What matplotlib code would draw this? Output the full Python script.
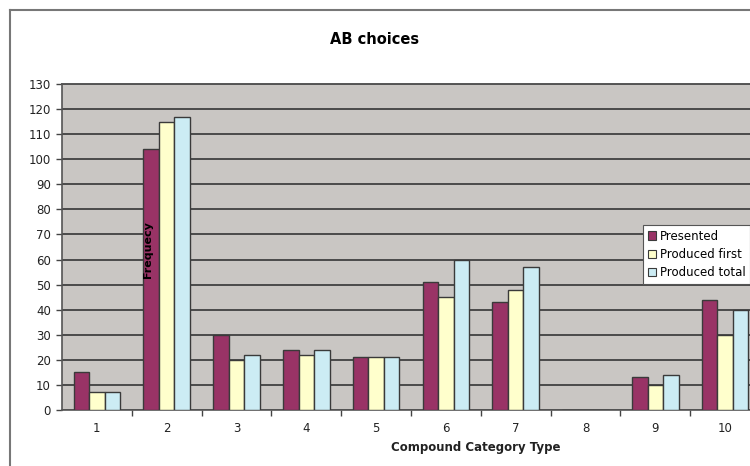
import matplotlib.pyplot as plt
import numpy as np
from matplotlib.lines import Line2D
from matplotlib.patches import Patch

# category numbers and counts per series
categories = [1, 2, 3, 4, 5, 6, 7, 8, 9, 10]
presented = [15, 104, 30, 24, 21, 51, 43, 0, 13, 44]
produced_first = [7, 115, 20, 22, 21, 45, 48, 0, 10, 30]
produced_total = [7, 117, 22, 24, 21, 60, 57, 0, 14, 40]
series_names = ["Presented", "Produced first", "Produced total"]

colors = ["#993366", "#FFFFCC", "#CCECF4"]
edge = "#3a3a3a"

fig = plt.figure(figsize=(7.5, 4.66), dpi=100)
fig.patch.set_facecolor("white")

# plot area runs a little past the right edge of the figure
ax = fig.add_axes([62 / 750, 56 / 466, 698 / 750, 326 / 466])
ax.set_facecolor("#C9C6C3")

x = np.array(categories)
w = 0.222
for i, vals in enumerate([presented, produced_first, produced_total]):
    ax.bar(x + (i - 1) * w, vals, width=w, color=colors[i],
           edgecolor=edge, linewidth=1.0, zorder=3)

ax.set_xlim(0.5, 10.5)
ax.set_ylim(0, 130)
ax.set_yticks(np.arange(0, 131, 10))
ax.yaxis.grid(True, color="#4a4a4a", linewidth=1.4, zorder=1)
ax.set_axisbelow(True)

# category labels without marks, marks between categories
ax.set_xticks(categories)
ax.set_xticklabels([str(c) for c in categories])
ax.tick_params(axis="x", length=0, pad=9, labelsize=8.5, colors="#222222")
ax.set_xticks(np.arange(1.5, 10.5, 1), minor=True)
ax.tick_params(axis="x", which="minor", length=4, width=1, color="#444444",
               direction="out")
ax.tick_params(axis="y", length=4, width=1, color="#444444", labelsize=8.5,
               labelcolor="#222222", pad=4)

for s in ["top", "right"]:
    ax.spines[s].set_color("#555555")
    ax.spines[s].set_linewidth(1.4)
for s in ["left", "bottom"]:
    ax.spines[s].set_color("#555555")
    ax.spines[s].set_linewidth(1.2)

# y label sits inside the plot area, over the second group
fig.text(148 / 750, 1 - 250 / 466, "Frequecy", rotation=90, fontsize=8,
         fontweight="bold", ha="center", va="center", zorder=10)

fig.text(375 / 750, 1 - 40 / 466, "AB choices", fontsize=10.5,
         fontweight="bold", ha="center", va="center")
fig.text(476 / 750, 1 - 447 / 466, "Compound Category Type", fontsize=8.5,
         fontweight="bold", ha="center", va="center", color="#222222")

handles = [Patch(facecolor=colors[i], edgecolor=edge, linewidth=0.8)
           for i in range(3)]
leg = fig.legend(handles, series_names, loc="upper left",
                 bbox_to_anchor=(643 / 750, 1 - 225 / 466), fontsize=8.5,
                 frameon=True, fancybox=False, framealpha=1,
                 handlelength=0.7, handleheight=0.7, handletextpad=0.3,
                 labelspacing=0.45, borderpad=0.4, borderaxespad=0)
leg.get_frame().set_edgecolor("#555555")
leg.get_frame().set_linewidth(0.8)
leg.set_zorder(10)

# outer chart border on the left and top
fig.add_artist(Line2D([10 / 750, 10 / 750], [0, 1 - 10 / 466],
                      color="#777777", linewidth=1.5))
fig.add_artist(Line2D([10 / 750, 1], [1 - 10 / 466, 1 - 10 / 466],
                      color="#777777", linewidth=1.5))

fig.savefig("out.png", dpi=100)
